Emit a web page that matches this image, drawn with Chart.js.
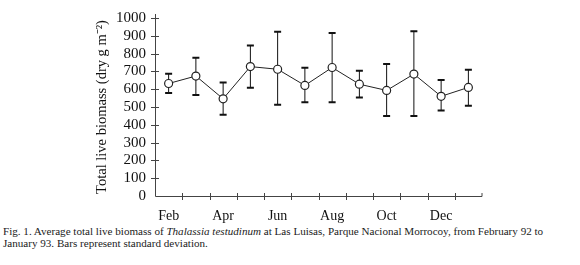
<!DOCTYPE html>
<html>
<head>
<meta charset="utf-8">
<script src="https://cdn.jsdelivr.net/npm/chart.js@4.4.1/dist/chart.umd.min.js"></script>
<style>
  html, body { margin: 0; padding: 0; background: #fff; }
  #wrap { position: relative; width: 580px; height: 265px; overflow: hidden; }
  #box { position: absolute; left: 0; top: 0; width: 580px; height: 225px; }
  #cap { position: absolute; left: 3px; top: 226px; width: 575px; font-family: "Liberation Serif", "Times New Roman", serif;
         font-size: 11.1px; line-height: 11.5px; color: #222; white-space: nowrap; }
</style>
</head>
<body>
<div id="wrap">
  <div id="box"><canvas id="c" width="580" height="225"></canvas></div>
  <div id="cap">Fig. 1. Average total live biomass of <i>Thalassia testudinum</i> at Las Luisas, Parque Nacional Morrocoy, from February 92 to<br>January 93. Bars represent standard deviation.</div>
</div>
<script>
const months = ["Feb","Mar","Apr","May","Jun","Jul","Aug","Sep","Oct","Nov","Dec","Jan"];
const biomass = [632, 674, 546, 727, 712, 621, 722, 628, 593, 685, 560, 610];
const errUpper = [687, 776, 637, 845, 923, 720, 916, 703, 742, 925, 652, 709];
const errLower = [579, 568, 456, 608, 513, 527, 527, 553, 449, 449, 480, 507];
const yTicks = [0,100,200,300,400,500,600,700,800,900,1000];

const serif = '"Liberation Serif", "Times New Roman", serif';

const errorBars = {
  id: 'errorBars',
  beforeDatasetsDraw(chart) {
    const ctx = chart.ctx, x = chart.scales.x, y = chart.scales.y;
    ctx.save();
    ctx.strokeStyle = '#111';
    biomass.forEach((v, i) => {
      const px = x.getPixelForValue(i);
      const yt = y.getPixelForValue(errUpper[i]);
      const yb = y.getPixelForValue(errLower[i]);
      ctx.lineWidth = 1;
      ctx.beginPath(); ctx.moveTo(px, yt); ctx.lineTo(px, yb); ctx.stroke();
      ctx.lineWidth = 2;
      ctx.beginPath();
      ctx.moveTo(px - 3.5, yt); ctx.lineTo(px + 3.5, yt);
      ctx.moveTo(px - 3.5, yb); ctx.lineTo(px + 3.5, yb);
      ctx.stroke();
    });
    ctx.restore();
  },
  afterDraw(chart) {
    const ctx = chart.ctx, x = chart.scales.x, y = chart.scales.y, a = chart.chartArea;
    ctx.save();
    ctx.strokeStyle = '#444';
    ctx.lineWidth = 1;
    ctx.beginPath();
    ctx.moveTo(a.left + 0.5, a.top - 4); ctx.lineTo(a.left + 0.5, a.bottom + 0.5);
    ctx.lineTo(a.right, a.bottom + 0.5); ctx.lineTo(a.right, a.bottom - 3);
    yTicks.forEach(t => {
      if (t === 0) return;
      const py = Math.round(y.getPixelForValue(t)) + 0.5;
      ctx.moveTo(a.left - 4, py); ctx.lineTo(a.left + 4, py);
    });
    for (let i = 1; i < months.length; i++) {
      const px = Math.round((x.getPixelForValue(i - 1) + x.getPixelForValue(i)) / 2) + 0.5;
      ctx.moveTo(px, a.bottom - 3); ctx.lineTo(px, a.bottom + 4);
    }
    ctx.stroke();
    ctx.restore();
  }
};

new Chart(document.getElementById('c'), {
  type: 'line',
  data: {
    labels: months,
    datasets: [{
      data: biomass,
      borderColor: '#222',
      borderWidth: 1,
      pointRadius: 4,
      pointBackgroundColor: '#fff',
      pointBorderColor: '#222',
      pointBorderWidth: 1.2,
      tension: 0
    }]
  },
  options: {
    responsive: false,
    animation: false,
    devicePixelRatio: 1,
    layout: { padding: { left: 0, top: 14, right: 98, bottom: 0 } },
    plugins: { legend: { display: false }, tooltip: { enabled: false } },
    scales: {
      x: {
        type: 'category',
        offset: true,
        border: { display: false },
        grid: { display: false, drawTicks: false },
        ticks: {
          autoSkip: false, maxRotation: 0, padding: 12, color: '#111',
          font: { family: serif, size: 14 },
          callback: (v, i) => (i % 2 === 0 ? months[i] : '')
        },
        afterFit: s => { s.height = 29; }
      },
      y: {
        min: 0, max: 1000,
        border: { display: false },
        grid: { display: false, drawTicks: false },
        afterBuildTicks: s => { s.ticks = yTicks.map(v => ({ value: v })); },
        ticks: {
          autoSkip: false, padding: 9, color: '#111',
          font: { family: serif, size: 15 },
          callback: v => String(v)
        },
        title: {
          display: true, text: 'Total live biomass (dry g m\u207B\u00B2)',
          color: '#111', font: { family: serif, size: 14.5 },
          padding: { top: 93, bottom: 0 }
        },
        afterFit: s => { s.width = 155; }
      }
    }
  },
  plugins: [errorBars]
});
</script>
</body>
</html>
